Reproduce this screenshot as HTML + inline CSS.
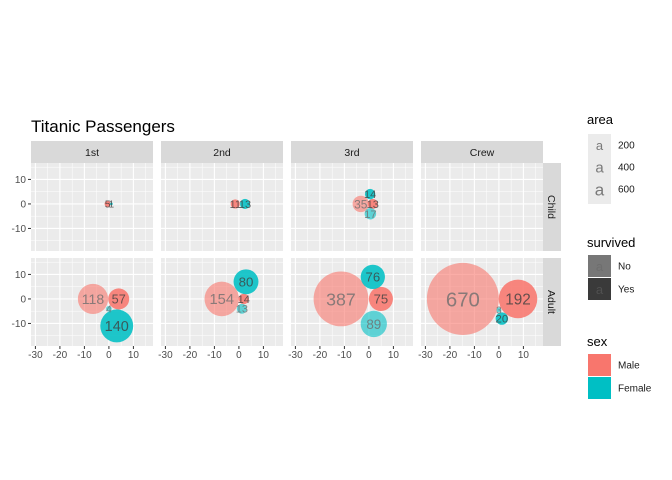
<!DOCTYPE html>
<html><head><meta charset="utf-8">
<style>
body{margin:0;background:#fff;}
svg{display:block;font-family:"Liberation Sans",Arial,sans-serif;}
</style></head>
<body>
<svg id="chart" width="672" height="480" viewBox="0 0 672 480"></svg>
<script>
const classes = ["1st","2nd","3rd","Crew"];
const ages = ["Child","Adult"];
// one entry per circle
const circClass = ["1st","1st","2nd","2nd","3rd","3rd","3rd","3rd",
                   "1st","1st","1st","1st","2nd","2nd","2nd","2nd","3rd","3rd","3rd","3rd","Crew","Crew","Crew","Crew"];
const circAge   = ["Child","Child","Child","Child","Child","Child","Child","Child",
                   "Adult","Adult","Adult","Adult","Adult","Adult","Adult","Adult","Adult","Adult","Adult","Adult","Adult","Adult","Adult","Adult"];
const circSex   = ["Male","Female","Male","Female","Male","Male","Female","Female",
                   "Male","Male","Female","Female","Male","Male","Female","Female","Male","Male","Female","Female","Male","Male","Female","Female"];
const circSurv  = ["Yes","Yes","Yes","Yes","No","Yes","Yes","No",
                   "No","Yes","No","Yes","No","Yes","No","Yes","No","Yes","No","Yes","No","Yes","No","Yes"];
const circN     = [5,1,11,13,35,13,14,17,
                   118,57,4,140,154,14,13,80,387,75,89,76,670,192,3,20];
const circX     = [-0.5,1,-1.5,2.5,-3.3,1.6,0.5,0.6,
                   -6.5,4,0,3.2,-7,2,1.2,2.9,-11.4,4.9,2,1.6,-14.7,7.8,0,1.2];
const circY     = [0,0,0,0,0,0,4,-4,
                   0,0,-4,-11,0,0,-4,7,0,0,-10.2,9,0,0,-4.5,-8];
const xTicks = [-30,-20,-10,0,10];
const yTicks = [-10,0,10];

const NS="http://www.w3.org/2000/svg";
const svg=document.getElementById("chart");
function mk(t,a,p){const e=document.createElementNS(NS,t);for(const k in a)e.setAttribute(k,a[k]);(p||svg).appendChild(e);return e;}

const panelL=[31,161,291,421], panelW=122;
const panelT=[163,258], panelH=88;
const xDom=[-31.8,18], yDom=[-19.2,16.7];
function sx(c,v){return panelL[c]+(v-xDom[0])/(xDom[1]-xDom[0])*panelW;}
function sy(r,v){return panelT[r]+panelH-(v-yDom[0])/(yDom[1]-yDom[0])*panelH;}
const pxPerUnit=panelW/(xDom[1]-xDom[0]);

let t=mk("text",{x:31,y:132,"font-size":17,fill:"#000"});t.textContent="Titanic Passengers";



classes.forEach((c,i)=>{
  const g=mk("g",{});
  
  
  mk("rect",{x:panelL[i],y:141,width:panelW,height:22,fill:"#D9D9D9"},g);
  const tx=mk("text",{x:panelL[i]+panelW/2,y:156,"font-size":10.5,"text-anchor":"middle",fill:"#1A1A1A"},g);tx.textContent=c;
});
ages.forEach((a,r)=>{
  const g=mk("g",{});
  
  
  mk("rect",{x:543,y:panelT[r],width:18,height:panelH,fill:"#D9D9D9"},g);
  const cy=panelT[r]+panelH/2;
  const tx=mk("text",{x:548,y:cy,"font-size":10.5,"text-anchor":"middle",fill:"#1A1A1A",transform:`rotate(90 548 ${cy})`},g);tx.textContent=a;
});

for(let r=0;r<2;r++)for(let c=0;c<4;c++){
  const g=mk("g",{});
  
  
  mk("rect",{x:panelL[c],y:panelT[r],width:panelW,height:panelH,fill:"#EBEBEB"},g);
  for(let v=-35;v<=20;v+=10){const x=sx(c,v);if(x>panelL[c]&&x<panelL[c]+panelW)mk("line",{x1:x,x2:x,y1:panelT[r],y2:panelT[r]+panelH,stroke:"#fff","stroke-width":0.5},g);}
  for(let v=-15;v<=15;v+=10){const y=sy(r,v);if(y>panelT[r]&&y<panelT[r]+panelH)mk("line",{x1:panelL[c],x2:panelL[c]+panelW,y1:y,y2:y,stroke:"#fff","stroke-width":0.5},g);}
  xTicks.forEach(v=>{const x=sx(c,v);mk("line",{x1:x,x2:x,y1:panelT[r],y2:panelT[r]+panelH,stroke:"#fff","stroke-width":1.1},g);});
  yTicks.forEach(v=>{const y=sy(r,v);mk("line",{x1:panelL[c],x2:panelL[c]+panelW,y1:y,y2:y,stroke:"#fff","stroke-width":1.1},g);});
}
ages.forEach((a,r)=>{
  const g=mk("g",{});
  
  
  yTicks.forEach(v=>{const y=sy(r,v);
    mk("line",{x1:28,x2:31,y1:y,y2:y,stroke:"#333","stroke-width":1},g);
    const tx=mk("text",{x:26,y:y+3.5,"font-size":10,"text-anchor":"end",fill:"#4D4D4D"},g);tx.textContent=v;});
});
classes.forEach((c,i)=>{
  const g=mk("g",{});
  
  
  xTicks.forEach(v=>{const x=sx(i,v);
    mk("line",{x1:x,x2:x,y1:346,y2:349,stroke:"#333","stroke-width":1},g);
    const tx=mk("text",{x:x,y:358,"font-size":10,"text-anchor":"middle",fill:"#4D4D4D"},g);tx.textContent=v;});
});

const col={Male:"#F8766D",Female:"#00BFC4"};
const op={No:0.6,Yes:0.88};
circN.forEach((n,i)=>{
  const c=classes.indexOf(circClass[i]), r=ages.indexOf(circAge[i]);
  const cx=sx(c,circX[i]), cy=sy(r,circY[i]);
  const rad=0.568*Math.sqrt(n)*pxPerUnit;
  const cir=mk("circle",{cx:cx,cy:cy,r:rad,fill:col[circSex[i]],"fill-opacity":op[circSurv[i]]});
  
  
});
circN.forEach((n,i)=>{
  const c=classes.indexOf(circClass[i]), r=ages.indexOf(circAge[i]);
  const cx=sx(c,circX[i]), cy=sy(r,circY[i]);
  const fs=9.5+Math.sqrt(n)*0.42;
  const tx=mk("text",{x:cx,y:cy+fs*0.36,"font-size":fs,"text-anchor":"middle",fill:circSurv[i]==="Yes"?"#404040":"#6E6E6E","fill-opacity":0.8});
  tx.textContent=n;
  
  
});

function legTitle(txt,y,name){const e=mk("text",{x:587,y:y,"font-size":13,fill:"#000"});e.textContent=txt;
  
  }
legTitle("area",124,"legend-area-title");
const ga=mk("g",{});


mk("rect",{x:588,y:134,width:23,height:70,fill:"#EBEBEB"},ga);
[["200",145,13],["400",167,15],["600",189,17]].forEach(([l,y,fs])=>{
  const a=mk("text",{x:599.5,y:y+fs*0.38,"font-size":fs,"text-anchor":"middle",fill:"#7A7A7A"},ga);a.textContent="a";
  const b=mk("text",{x:618,y:y+3.5,"font-size":10,fill:"#1A1A1A"},ga);b.textContent=l;});
legTitle("survived",247,"legend-survived-title");
[["No","#777",266],["Yes","#3A3A3A",289]].forEach(([l,c,y])=>{
  const g=mk("g",{});
  
  
  mk("rect",{x:588,y:y-11,width:23,height:22,fill:c},g);
  const a=mk("text",{x:599.5,y:y+5,"font-size":13,"text-anchor":"middle",fill:"#666","fill-opacity":0.5},g);a.textContent="a";
  const b=mk("text",{x:618,y:y+3.5,"font-size":10,fill:"#1A1A1A"},g);b.textContent=l;});
legTitle("sex",346,"legend-sex-title");
[["Male","#F8766D",365],["Female","#00BFC4",388]].forEach(([l,c,y])=>{
  const g=mk("g",{});
  
  
  mk("rect",{x:588,y:y-11,width:23,height:22,fill:c},g);
  const b=mk("text",{x:618,y:y+3.5,"font-size":10,fill:"#1A1A1A"},g);b.textContent=l;});
</script>
</body></html>
